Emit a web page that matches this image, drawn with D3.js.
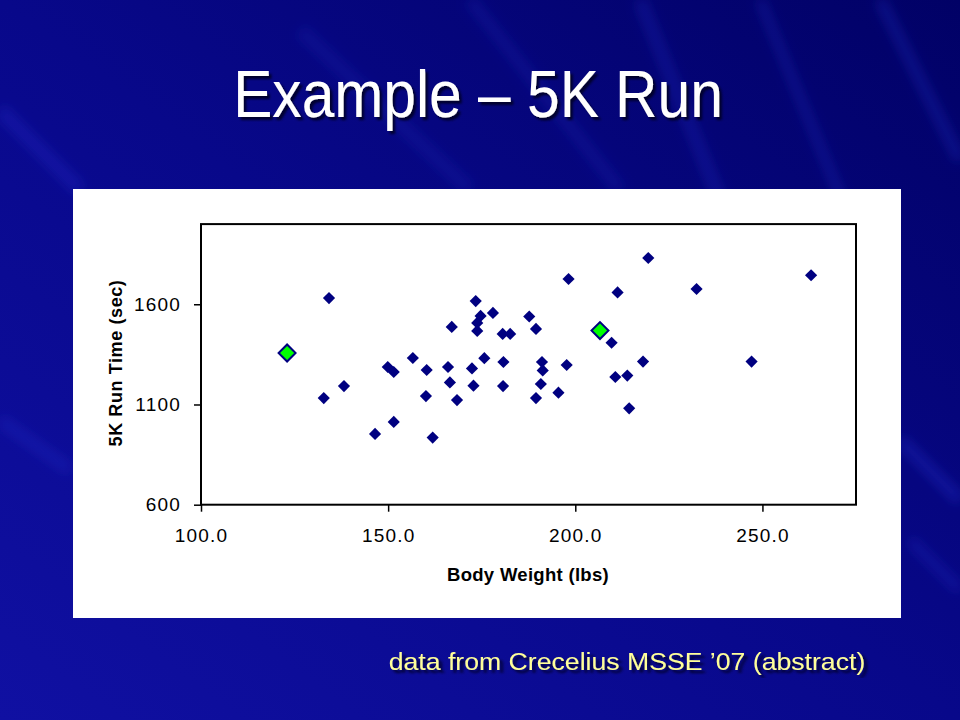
<!DOCTYPE html>
<html>
<head>
<meta charset="utf-8">
<script src="https://cdn.jsdelivr.net/npm/d3@7"></script>
<style>
  body { margin: 0; background: #0a0a8a; }
  svg { display: block; }
  text { font-family: "Liberation Sans", Arial, sans-serif; }
</style>
</head>
<body>
<script>
// body weight (lbs) and 5K time (sec)
var weight = [132.8, 134.2, 138.2, 146.5, 149.9, 151.5, 151.5, 156.6, 160.1, 160.3,
              161.9, 166.0, 166.5, 167.0, 168.4, 172.4, 172.8, 173.4, 173.8, 173.8,
              174.7, 175.7, 178.0, 180.6, 182.6, 180.8, 180.7, 187.7, 189.5, 189.5,
              190.8, 191.1, 191.3, 197.7, 195.5, 198.2, 209.7, 211.3, 210.7, 213.9,
              214.4, 218.1, 219.5, 232.4, 247.1, 263.0];
var runTime = [1132, 1631, 1192, 953, 1287, 1262, 1013, 1332, 1142, 1272,
               935, 1287, 1210, 1487, 1122, 1280, 1194, 1616, 1507, 1467,
               1542, 1331, 1557, 1452, 1452, 1312, 1192, 1539, 1477, 1132,
               1202, 1312, 1270, 1297, 1159, 1726, 1408, 1659, 1237, 1244,
               1081, 1314, 1831, 1676, 1314, 1745];

// the two highlighted runners
var hiWeight = [123.0, 206.6];
var hiTime = [1357, 1469];

var xTicks = [100, 150, 200, 250];
var yTicks = [600, 1100, 1600];

var W = 960, H = 720;

var svg = d3.select("body").append("svg")
  .attr("width", W).attr("height", H);

var defs = svg.append("defs");

var bg = defs.append("linearGradient").attr("id", "bg")
  .attr("x1", "0%").attr("y1", "100%").attr("x2", "100%").attr("y2", "0%");
bg.append("stop").attr("offset", "0%").attr("stop-color", "#1010a2");
bg.append("stop").attr("offset", "50%").attr("stop-color", "#08088a");
bg.append("stop").attr("offset", "100%").attr("stop-color", "#010166");

defs.append("filter").attr("id", "blur")
  .attr("x", "-50%").attr("y", "-50%").attr("width", "200%").attr("height", "200%")
  .append("feGaussianBlur").attr("stdDeviation", 6);

defs.append("filter").attr("id", "shadow")
  .append("feDropShadow")
  .attr("dx", 3).attr("dy", 3).attr("stdDeviation", 1.2)
  .attr("flood-color", "#000022").attr("flood-opacity", 0.9);

svg.append("rect").attr("width", W).attr("height", H).attr("fill", "url(#bg)");

// light rays in the background
var rays = [
  [640, 0, 760, 300, 12, 0.18],
  [760, 0, 850, 220, 8, 0.22],
  [880, 0, 960, 160, 10, 0.22],
  [470, 0, 620, 190, 14, 0.12],
  [300, 30, 470, 190, 16, 0.1],
  [0, 110, 80, 190, 14, 0.18],
  [0, 420, 70, 470, 12, 0.15],
  [900, 440, 960, 500, 12, 0.22],
  [910, 540, 960, 590, 10, 0.18]
];
svg.append("g").attr("filter", "url(#blur)")
  .selectAll("line").data(rays).enter().append("line")
  .attr("x1", d => d[0]).attr("y1", d => d[1])
  .attr("x2", d => d[2]).attr("y2", d => d[3])
  .attr("stroke", "#3a4cff")
  .attr("stroke-width", d => d[4])
  .attr("stroke-opacity", d => d[5]);

// title
svg.append("text")
  .attr("transform", "translate(478,117) scale(0.89,1)")
  .attr("text-anchor", "middle")
  .attr("font-size", 66)
  .attr("fill", "#ffffff")
  .attr("filter", "url(#shadow)")
  .text("Example \u2013 5K Run");

// source note
svg.append("text")
  .attr("transform", "translate(627,670) scale(1.11,1)")
  .attr("text-anchor", "middle")
  .attr("font-size", 24)
  .attr("fill", "#ffff99")
  .attr("filter", "url(#shadow)")
  .text("data from Crecelius MSSE \u201907 (abstract)");

// white chart area
svg.append("rect")
  .attr("x", 73).attr("y", 189).attr("width", 828).attr("height", 429)
  .attr("fill", "#ffffff");

var x = d3.scaleLinear().domain([100, 275]).range([201, 856]);
var y = d3.scaleLinear().domain([600, 2000]).range([504.7, 224.1]);

var xAxis = svg.append("g")
  .attr("transform", "translate(0," + y(600) + ")")
  .call(d3.axisBottom(x).tickValues(xTicks).tickFormat(d3.format(".1f"))
    .tickSize(7).tickPadding(17));
var yAxis = svg.append("g")
  .attr("transform", "translate(" + x(100) + ",0)")
  .call(d3.axisLeft(y).tickValues(yTicks).tickFormat(d3.format("d"))
    .tickSize(7).tickPadding(13));

[xAxis, yAxis].forEach(function(a) {
  a.select(".domain").remove();
  a.selectAll(".tick line").attr("stroke", "#000").attr("stroke-width", 1.5);
  a.selectAll(".tick text")
    .attr("font-family", "\"Liberation Sans\", Arial, sans-serif")
    .attr("font-size", 19)
    .attr("letter-spacing", 1.2)
    .attr("fill", "#000");
});

// plot frame
svg.append("rect")
  .attr("x", x(100)).attr("y", y(2000))
  .attr("width", x(275) - x(100)).attr("height", y(600) - y(2000))
  .attr("fill", "none").attr("stroke", "#000").attr("stroke-width", 2);

// axis titles
svg.append("text")
  .attr("x", 528).attr("y", 581)
  .attr("text-anchor", "middle")
  .attr("font-size", 18.5).attr("font-weight", "bold")
  .attr("letter-spacing", 0.3)
  .text("Body Weight (lbs)");

svg.append("text")
  .attr("transform", "translate(121.5,363) rotate(-90)")
  .attr("text-anchor", "middle")
  .attr("font-size", 18).attr("font-weight", "bold")
  .attr("letter-spacing", 0.6)
  .text("5K Run Time (sec)");

var diamond = d3.symbol().type(d3.symbolSquare);

var runners = weight.map((w, i) => ({ w: w, t: runTime[i] }));
var highlighted = hiWeight.map((w, i) => ({ w: w, t: hiTime[i] }));

svg.append("g").selectAll("path")
  .data(runners).enter().append("path")
  .attr("d", diamond.size(74)())
  .attr("transform", d => "translate(" + x(d.w) + "," + y(d.t) + ") rotate(45)")
  .attr("fill", "#000080");

svg.append("g").selectAll("path")
  .data(highlighted).enter().append("path")
  .attr("d", diamond.size(144)())
  .attr("transform", d => "translate(" + x(d.w) + "," + y(d.t) + ") rotate(45)")
  .attr("fill", "#00ff00")
  .attr("stroke", "#000080")
  .attr("stroke-width", 2);
</script>
</body>
</html>
